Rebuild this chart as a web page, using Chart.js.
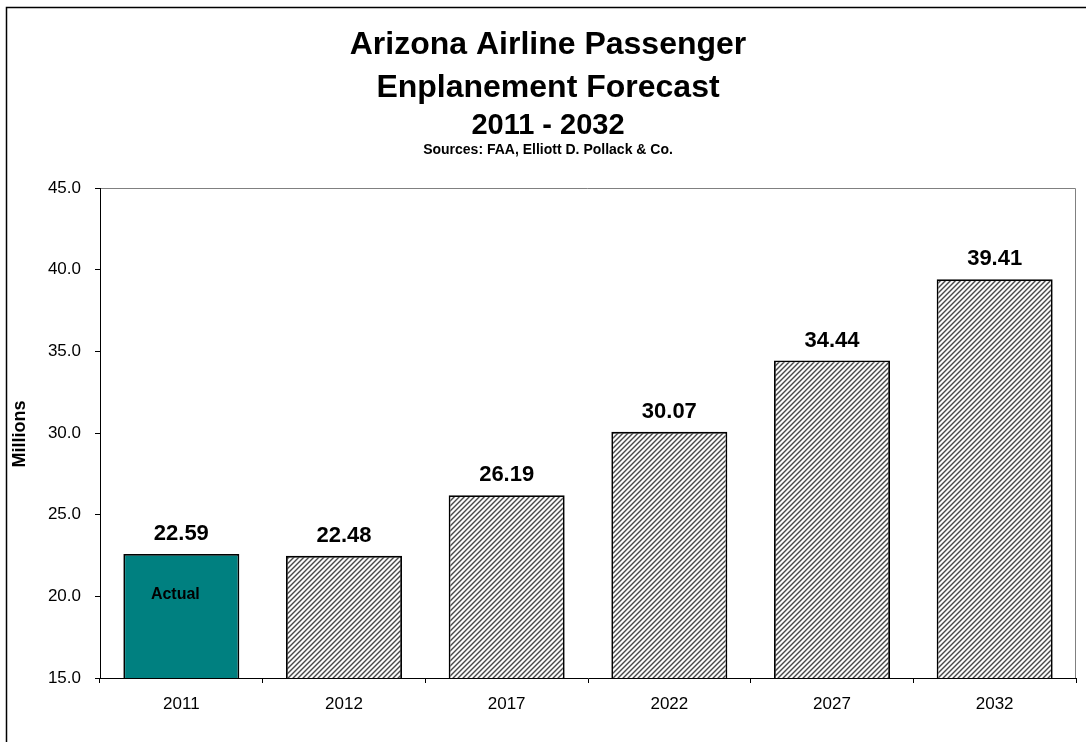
<!DOCTYPE html>
<html>
<head>
<meta charset="utf-8">
<title>Arizona Airline Passenger Enplanement Forecast</title>
<script src="https://cdn.jsdelivr.net/npm/chart.js@4/dist/chart.umd.min.js"></script>
<style>
  html, body { margin: 0; padding: 0; background: #fff; }
  canvas { display: block; }
</style>
</head>
<body>
<canvas id="enplanements" width="1086" height="742"></canvas>
<script>
// Enplanements, millions of passengers
const years = ['2011', '2012', '2017', '2022', '2027', '2032'];
const enplanements = [22.59, 22.48, 26.19, 30.07, 34.44, 39.41];
const yTicks = [15, 20, 25, 30, 35, 40, 45];

const titleLines = ['Arizona Airline Passenger', 'Enplanement Forecast'];
const subTitle = '2011 - 2032';
const sourceNote = 'Sources: FAA, Elliott D. Pollack & Co.';
const actualNote = 'Actual';

const FONT = 'Arial, "Liberation Sans", Helvetica, sans-serif';

// diagonal hatch used for the forecast bars
function makeHatch() {
    const n = 5;
    const c = document.createElement('canvas');
    c.width = n; c.height = n;
    const g = c.getContext('2d');
    const shades = ['#4a4a4a', '#8c8c8c', '#f4f4f4', '#ffffff', '#bcbcbc'];
    for (let x = 0; x < n; x++) {
        for (let y = 0; y < n; y++) {
            g.fillStyle = shades[(x + y) % n];
            g.fillRect(x, y, 1, 1);
        }
    }
    return g.createPattern(c, 'repeat');
}
const hatch = makeHatch();

// frame, headings, value labels and the plot border
const decorations = {
    id: 'decorations',
    beforeDraw(chart) {
        const { ctx, chartArea: a } = chart;
        ctx.save();
        ctx.strokeStyle = '#000';
        ctx.lineWidth = 1.5;
        ctx.beginPath();
        ctx.moveTo(6.5, 742);
        ctx.lineTo(6.5, 7.5);
        ctx.lineTo(1086, 7.5);
        ctx.stroke();

        ctx.strokeStyle = '#808080';
        ctx.lineWidth = 1;
        ctx.beginPath();
        ctx.moveTo(a.left, a.top + 0.5);
        ctx.lineTo(a.right - 0.5, a.top + 0.5);
        ctx.lineTo(a.right - 0.5, a.bottom);
        ctx.stroke();

        ctx.fillStyle = '#000';
        ctx.textAlign = 'center';
        ctx.textBaseline = 'middle';
        const cx = 548;
        ctx.font = 'bold 32px ' + FONT;
        ctx.fillText(titleLines[0], cx, 45);
        ctx.fillText(titleLines[1], cx, 88);
        ctx.font = 'bold 29px ' + FONT;
        ctx.fillText(subTitle, cx, 126);
        ctx.font = 'bold 14px ' + FONT;
        ctx.fillText(sourceNote, cx, 150);

        ctx.translate(20, 434);
        ctx.rotate(-Math.PI / 2);
        ctx.font = 'bold 18px ' + FONT;
        ctx.fillText('Millions', 0, 0);
        ctx.restore();
    },
    afterDatasetsDraw(chart) {
        const { ctx } = chart;
        const bars = chart.getDatasetMeta(0).data;
        ctx.save();
        ctx.fillStyle = '#000';
        ctx.textAlign = 'center';
        ctx.textBaseline = 'middle';
        ctx.font = 'bold 22px ' + FONT;
        bars.forEach((bar, i) => {
            ctx.fillText(enplanements[i].toFixed(2), bar.x, bar.y - 20);
        });
        ctx.font = 'bold 16px ' + FONT;
        ctx.fillText(actualNote, bars[0].x - 6, 595);
        ctx.restore();
    }
};

new Chart(document.getElementById('enplanements'), {
    type: 'bar',
    data: {
        labels: years,
        datasets: [{
            data: enplanements,
            backgroundColor: enplanements.map((v, i) => i === 0 ? '#008080' : hatch),
            borderColor: '#000',
            borderWidth: 1.8,
            borderSkipped: false,
            barPercentage: 0.713,
            categoryPercentage: 1.0
        }]
    },
    options: {
        responsive: false,
        animation: false,
        devicePixelRatio: 1,
        layout: { padding: { top: 188, right: 10, left: 0, bottom: 0 } },
        plugins: {
            legend: { display: false },
            tooltip: { enabled: false }
        },
        scales: {
            x: {
                grid: { drawOnChartArea: false, drawTicks: true, tickLength: 5, color: '#000', offset: true },
                border: { color: '#000', width: 1 },
                ticks: { color: '#000', font: { family: FONT, size: 17 }, padding: 11 },
                afterFit(scale) { scale.height = 64; }
            },
            y: {
                min: 15,
                max: 45,
                afterBuildTicks(scale) { scale.ticks = yTicks.map(v => ({ value: v })); },
                grid: { drawOnChartArea: false, drawTicks: true, tickLength: 5, color: '#000' },
                border: { color: '#000', width: 1 },
                ticks: {
                    color: '#000',
                    font: { family: FONT, size: 17 },
                    padding: 14,
                    callback: v => Number(v).toFixed(1)
                },
                afterFit(scale) { scale.width = 100; }
            }
        }
    },
    plugins: [decorations]
});
</script>
</body>
</html>
